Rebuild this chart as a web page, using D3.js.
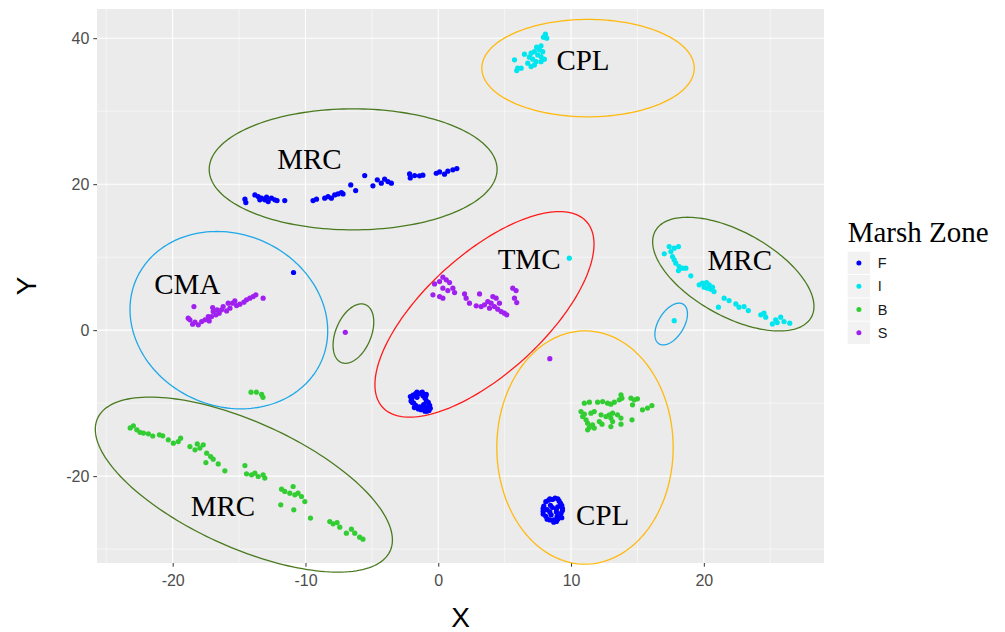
<!doctype html>
<html>
  <meta charset="utf-8">
  <head>
    <script src="https://d3js.org/d3.v7.min.js"></script>
    <style type='text/css'>
      body{ margin:0; background:#fff; }
      g.tick line{ stroke:#333333; }
      g.tick text{ fill:#4D4D4D; font-family:'Liberation Sans',Arial,sans-serif; font-size:16px; }
      .label{ font-family:'Liberation Serif','Times New Roman',serif; font-size:29px; fill:#000; }
    </style>
  </head>
  <body>
    <svg id='tsne'></svg>
    <script type='text/javascript'>
      // tick values
      var xTicks = [-20,-10,0,10,20];
      var yTicks = [-20,0,20,40];
      var xMinor = [-25,-15,-5,5,15,25];
      var yMinor = [-30,-10,10,30];

      // marsh zones
      var zones = ['F','I','B','S'];
      var zoneColors = ['#0000FF','#00E5EE','#32CD32','#A020F0'];

      // F points
      var pointsF = [
        [-14.56,17.95],[-14.49,17.48],[-13.81,18.53],[-13.56,18.3],[-13.31,18.08],[-13.06,17.85],[-12.93,18.22],
        [-12.81,17.62],[-12.56,18.08],[-12.31,17.85],[-12.14,17.75],[-13.44,17.85],[-11.56,17.75],[-9.43,17.75],
        [-9.17,17.95],[-8.55,18.08],[-8.3,18.3],[-8.05,18.08],[-7.8,18.53],[-7.55,18.67],[-7.29,18.85],[-7.17,18.67],
        [-6.59,19.9],[-6.22,19.12],[-5.54,21.18],[-4.92,19.77],[-4.59,20.59],[-4.29,20.14],[-4.04,20.68],[-3.79,20.36],
        [-3.53,20.14],[-2.16,21.41],[-2.11,20.86],[-1.78,21.18],[-1.41,21.14],[-1.16,21.23],[-0.15,21.5],[0.1,21.68],
        [0.47,21.37],[0.72,21.78],[1.1,21.96],[1.4,22.14],
        [-10.9,7.9],
        [-1.9,-8.9],[-1.6,-8.5],[-1.2,-8.5],[-0.9,-8.8],[-2.0,-9.4],[-1.95,-9.9],[-1.7,-10.3],[-1.4,-10.5],[-1.1,-10.2],
        [-0.9,-9.7],[-0.8,-10.5],[-0.7,-11.0],[-1.0,-11.1],[-1.3,-10.9],[-1.6,-9.2],[-1.0,-9.3],[-2.1,-9.1],[-1.8,-10.6],
        [-0.6,-10.7],[-1.4,-8.7],
        [-1.75,-9.0],[-1.3,-8.6],[-0.95,-9.1],[-0.75,-9.9],[-0.95,-10.8],[-1.5,-10.8],[-1.85,-10.0],[-2.05,-9.7],
        [-1.15,-9.0],[-0.65,-10.3],[-1.2,-10.6],[-0.85,-11.1],[-1.7,-8.7],
        [8.4,-23.1],[8.8,-23.0],[9.1,-23.4],[9.3,-24.0],[9.35,-24.7],[9.2,-25.4],[9.0,-25.9],[8.7,-26.3],[8.4,-26.0],
        [8.1,-25.5],[7.9,-24.8],[7.95,-24.1],[8.1,-23.5],[8.6,-24.3],[8.9,-24.9],[8.5,-25.3],[8.2,-24.6],[9.0,-24.2],
        [8.7,-26.0],[9.25,-25.1],
        [8.6,-23.2],[9.2,-23.7],[9.35,-24.4],[9.3,-25.7],[8.9,-26.2],[8.2,-25.9],[7.9,-25.2],[7.9,-24.4],[8.3,-23.3],
        [9.0,-23.1],[8.45,-24.0],[8.95,-25.5],[8.4,-24.9],[8.9,-24.5]
      ];
      // I points
      var pointsI = [
        [8.07,40.55],[7.92,40.14],[8.17,40.0],[7.74,38.95],[7.41,38.77],[7.62,38.4],[7.87,38.16],[7.24,38.16],[6.99,37.95],
        [7.49,37.71],[7.74,37.48],[7.99,37.12],[6.49,37.81],[5.74,37.03],[6.86,37.4],[7.11,37.12],[6.74,36.58],[6.99,36.11],
        [7.24,36.34],[7.37,36.79],[6.24,35.89],[5.91,35.56],[5.98,35.89],[7.74,36.79],
        [9.87,9.86],[17.77,1.3],
        [17.02,10.45],[17.39,11.45],[17.77,11.23],[18.09,11.45],[17.52,10.77],[17.64,10.08],[17.77,9.63],[17.89,9.18],
        [18.14,8.71],[18.09,8.16],[18.39,8.49],[18.65,8.49],[19.02,7.44],[19.65,6.21],[19.89,6.44],[20.2,6.52],[20.4,6.21],
        [20.02,5.89],[20.27,5.75],[20.53,5.62],[20.77,5.29],[20.65,5.89],[21.1,3.15],[21.53,4.38],[21.9,4.05],[22.41,3.6],
        [22.65,3.15],[23.03,3.23],[23.35,2.68],[24.29,2.1],[24.53,2.33],[24.66,1.78],[25.16,0.86],[25.41,1.41],[25.79,1.78],
        [26.04,1.18],[26.47,0.96],[25.53,1.04]
      ];
      // B points
      var pointsB = [
        [-23.2,-13.4],[-22.96,-13.1],[-22.7,-13.66],[-22.46,-14.0],[-22.2,-14.1],[-21.83,-14.2],[-21.5,-14.5],[-21.0,-14.34],
        [-20.75,-14.48],[-20.33,-15.03],[-19.95,-15.48],[-19.58,-15.26],[-19.4,-14.8],[-18.7,-15.95],[-18.32,-16.4],
        [-18.15,-15.58],[-17.95,-16.16],[-17.7,-15.71],[-17.44,-16.85],[-17.14,-17.32],[-17.5,-18.14],[-16.95,-17.67],
        [-16.57,-18.32],[-16.07,-19.27],[-14.56,-18.55],[-14.44,-19.68],[-14.06,-19.82],[-13.81,-19.59],[-13.56,-20.05],
        [-13.19,-19.82],[-13.06,-20.27],[-11.8,-21.78],[-11.56,-22.1],[-11.18,-22.33],[-10.93,-21.42],[-10.8,-22.56],
        [-10.56,-22.33],[-10.3,-22.79],[-10.05,-23.48],[-11.86,-23.93],[-10.88,-24.62],[-9.62,-25.75],[-8.17,-26.22],
        [-7.92,-26.53],[-7.62,-26.36],[-7.42,-26.99],[-6.92,-27.81],[-6.54,-27.26],[-6.29,-27.81],[-5.92,-28.36],[-5.67,-28.63],
        [-14.1,-8.5],[-13.7,-8.5],[-13.3,-8.8],[-13.2,-9.2],
        [11.0,-10.0],[11.38,-9.86],[12.0,-9.86],[12.38,-9.78],[12.75,-10.0],[13.0,-10.14],[13.26,-9.86],[13.63,-9.55],
        [13.76,-8.86],[13.83,-9.32],[14.51,-9.32],[14.76,-9.55],[15.0,-9.41],[14.63,-10.23],[15.38,-10.92],[15.76,-10.68],
        [16.09,-10.33],[10.75,-11.15],[11.0,-11.51],[10.87,-11.84],[11.13,-12.29],[11.25,-12.74],[11.38,-13.34],[11.62,-12.97],
        [11.75,-11.15],[11.5,-11.37],[12.26,-11.6],[12.13,-12.52],[12.33,-12.88],[12.63,-11.84],[12.88,-11.6],[13.13,-11.37],
        [13.0,-12.05],[13.13,-12.52],[13.0,-13.21],[13.5,-11.6],[13.76,-12.05],[13.76,-12.88],[14.59,-12.29],[11.75,-13.42],
        [11.25,-13.66]
      ];
      // S points
      var pointsS = [
        [-18.4,3.23],[-18.7,1.41],[-18.5,0.82],[-18.32,1.1],[-18.07,0.73],[-17.82,1.18],[-17.57,1.41],[-17.25,1.27],
        [-17.07,1.86],[-16.95,2.55],[-16.99,3.1],[-16.74,2.1],[-16.5,2.33],[-16.32,2.78],[-16.2,3.23],[-15.94,2.64],
        [-15.69,3.01],[-15.49,3.7],[-15.32,4.01],[-15.19,3.37],[-14.94,3.56],[-14.64,3.84],[-14.44,4.15],[-14.19,4.38],
        [-13.94,4.6],[-13.74,4.84],[-13.19,4.38],[-18.83,1.64],[-17.32,1.86],[-16.65,2.78],[-15.82,3.7],
        [-7.0,-0.3],[8.4,-3.9],
        [-0.28,6.34],[0.1,6.66],[0.35,7.26],[0.6,6.89],[0.85,6.52],[1.1,5.75],[1.23,5.15],[0.35,5.75],[0.72,5.42],
        [-0.4,4.84],[0.1,4.6],[0.35,4.38],[1.98,4.97],[2.1,4.38],[2.35,3.7],[3.11,4.97],[2.86,3.33],[3.23,3.23],
        [3.48,3.47],[3.73,3.92],[3.98,3.7],[4.11,4.6],[4.36,4.38],[3.86,3.01],[4.23,3.23],[4.48,2.88],[4.74,2.55],
        [4.98,2.33],[5.16,2.1],[5.61,5.75],[5.86,5.42],[5.74,4.38],[5.91,3.78],[4.61,3.7]
      ];
      var zonePoints = [pointsF, pointsI, pointsB, pointsS];

      // ellipses: group, centre, horizontal half axis, conjugate half axis (data units)
      var ellipseGroup = ['CPL','MRC','CMA','MRC','TMC','CPL','MRC','MRC','CMA'];
      var ellipseCx = [11.28,-6.41,-15.77,-6.39,3.48,11.05,-14.64,22.22,17.54];
      var ellipseCy = [35.9,22.03,1.37,-0.47,2.16,-16.08,-21.16,7.68,0.84];
      var ellipseUx = [8.0,10.84,7.39,1.41,6.02,6.64,8.67,5.0,1.07];
      var ellipseVx = [0,0,-0.9,0.6,5.64,0,-7.07,-3.45,0.6];
      var ellipseVy = [6.67,8.29,12.15,4.07,14.08,15.98,11.99,7.79,2.86];
      var groupNames = ['CPL','MRC','CMA','TMC'];
      var groupColors = ['#FFB90F','#4A7A20','#1EA8E8','#FF1A1A'];

      // text labels
      var labelText = ['CPL','MRC','CMA','TMC','MRC','MRC','CPL'];
      var labelX = [10.9,-9.7,-18.9,6.84,22.71,-16.22,12.38];
      var labelY = [37.0,23.4,6.25,9.73,9.53,-24.16,-25.34];

      var w = 1005, h = 632;
      var pLeft = 97, pRight = 824, pTop = 9, pBottom = 563;
      var svg = d3.select('svg').attr('width',w).attr('height',h);

      var xScale = d3.scaleLinear().domain([-25.7,29.05]).range([pLeft,pRight]);
      var yScale = d3.scaleLinear().domain([-31.9,44.0]).range([pBottom,pTop]);

      // panel
      svg.append('rect').attr('x',pLeft).attr('y',pTop)
        .attr('width',pRight-pLeft).attr('height',pBottom-pTop).attr('fill','#EBEBEB');
      var grid = svg.append('g');
      grid.selectAll('line.xmin').data(xMinor).enter().append('line')
        .attr('x1',d=>xScale(d)).attr('x2',d=>xScale(d)).attr('y1',pTop).attr('y2',pBottom)
        .attr('stroke','#fff').attr('stroke-width',0.55);
      grid.selectAll('line.ymin').data(yMinor).enter().append('line')
        .attr('y1',d=>yScale(d)).attr('y2',d=>yScale(d)).attr('x1',pLeft).attr('x2',pRight)
        .attr('stroke','#fff').attr('stroke-width',0.55);
      grid.selectAll('line.xmaj').data(xTicks).enter().append('line')
        .attr('x1',d=>xScale(d)).attr('x2',d=>xScale(d)).attr('y1',pTop).attr('y2',pBottom)
        .attr('stroke','#fff').attr('stroke-width',1.1);
      grid.selectAll('line.ymaj').data(yTicks).enter().append('line')
        .attr('y1',d=>yScale(d)).attr('y2',d=>yScale(d)).attr('x1',pLeft).attr('x2',pRight)
        .attr('stroke','#fff').attr('stroke-width',1.1);

      // axes
      var xAxis = d3.axisBottom(xScale).tickValues(xTicks).tickSize(3.7).tickPadding(7.5)
        .tickFormat(d=>String(d));
      var yAxis = d3.axisLeft(yScale).tickValues(yTicks).tickSize(3.7).tickPadding(4)
        .tickFormat(d=>String(d));
      svg.append('g').attr('transform','translate(0,'+pBottom+')').call(xAxis)
        .call(g=>g.select('.domain').remove());
      svg.append('g').attr('transform','translate('+pLeft+',0)').call(yAxis)
        .call(g=>g.select('.domain').remove());

      svg.append('text').text('X').attr('x',(pLeft+pRight)/2).attr('y',626.5)
        .attr('text-anchor','middle').style('font-family',"'Liberation Sans',Arial,sans-serif")
        .style('font-size','28px');
      svg.append('text').text('Y').attr('transform','translate(36,'+((pTop+pBottom)/2)+') rotate(-90)')
        .attr('text-anchor','middle').style('font-family',"'Liberation Sans',Arial,sans-serif")
        .style('font-size','28px');

      // points
      zones.forEach((z,i)=>{
        svg.append('g').selectAll('circle').data(zonePoints[i]).enter()
          .append('circle').attr('r',2.6)
          .attr('cx',d=>xScale(d[0])).attr('cy',d=>yScale(d[1]))
          .attr('fill',zoneColors[i]);
      });

      // ellipses
      var ts = d3.range(0,2*Math.PI,Math.PI/90);
      var line = d3.line().curve(d3.curveLinearClosed);
      ellipseGroup.forEach((g,i)=>{
        var pts = ts.map(t=>[
          xScale(ellipseCx[i]+ellipseUx[i]*Math.cos(t)+ellipseVx[i]*Math.sin(t)),
          yScale(ellipseCy[i]+ellipseVy[i]*Math.sin(t))
        ]);
        svg.append('path').attr('d',line(pts)).attr('fill','none')
          .attr('stroke',groupColors[groupNames.indexOf(g)]).attr('stroke-width',1.3);
      });

      // labels
      svg.selectAll('text.label').data(labelText).enter().append('text')
        .attr('class','label').text(d=>d)
        .attr('x',(d,i)=>xScale(labelX[i])).attr('y',(d,i)=>yScale(labelY[i]))
        .attr('dy','0.33em').attr('text-anchor','middle');

      // legend
      var lg = svg.append('g').attr('transform','translate(847.7,0)');
      lg.append('text').text('Marsh Zone').attr('x',0).attr('y',241.7)
        .attr('class','label');
      zones.forEach((z,i)=>{
        var ky = 251.7 + i*23.3;
        lg.append('rect').attr('x',0).attr('y',ky).attr('width',22.4).attr('height',22.4)
          .attr('fill','#F2F2F2');
        lg.append('circle').attr('cx',11.2).attr('cy',ky+11.2).attr('r',2.5).attr('fill',zoneColors[i]);
        lg.append('text').text(z).attr('x',30).attr('y',ky+11.2).attr('dy','0.35em')
          .style('font-family',"'Liberation Sans',Arial,sans-serif").style('font-size','14.5px')
          .attr('fill','#1A1A1A');
      });
    </script>
  </body>
</html>
